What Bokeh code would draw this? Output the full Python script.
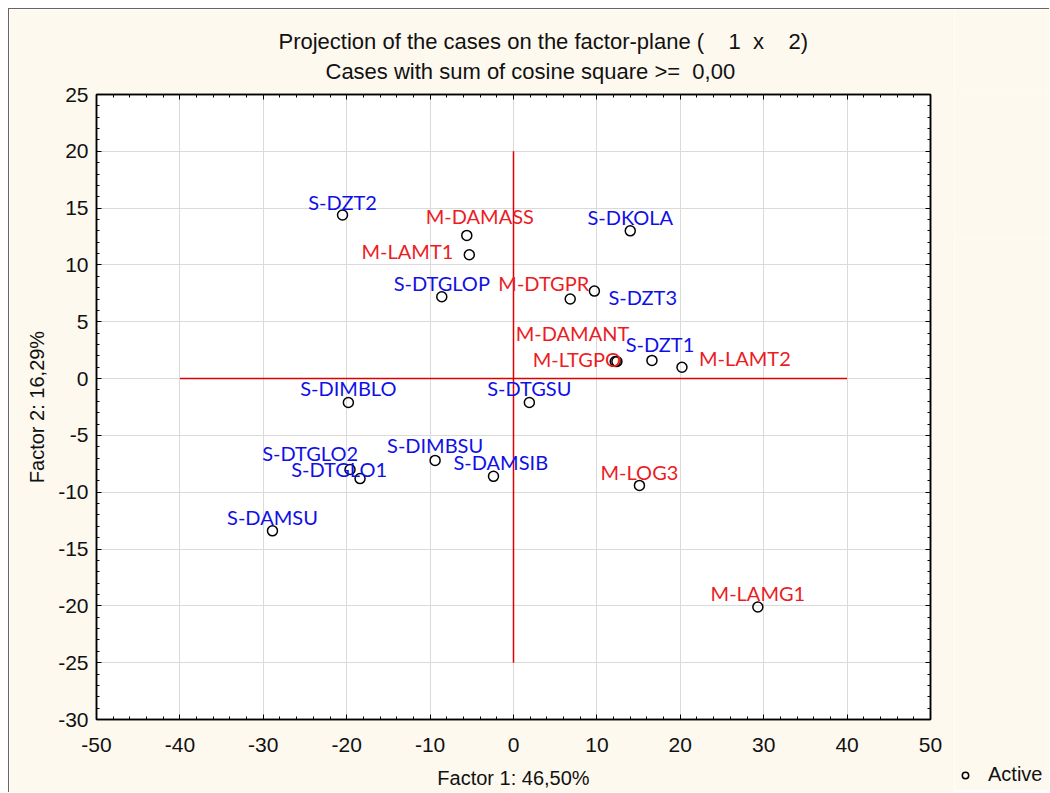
from bokeh.plotting import figure
from bokeh.models import (Range1d, LinearAxis, SingleIntervalTicker, Title, Legend,
                          LegendItem, ColumnDataSource, PrintfTickFormatter)
from bokeh.layouts import row
from bokeh.core.properties import value
from bokeh.embed import file_html
from bokeh.resources import INLINE

# ---- data ----
names = ["S-DZT2", "M-DAMASS", "M-LAMT1", "S-DKOLA", "S-DTGLOP", "M-DTGPR", "S-DZT3",
         "M-DAMANT", "M-LTGPO", "S-DZT1", "M-LAMT2", "S-DTGSU", "S-DIMBLO", "S-DTGLO2",
         "S-DTGLO1", "S-DIMBSU", "S-DAMSIB", "S-DAMSU", "M-LOG3", "M-LAMG1"]
factor1 = [-20.5, -5.6, -5.3, 14.0, -8.6, 6.8, 9.7,
           12.2, 12.4, 16.6, 20.2, 1.9, -19.8, -19.6,
           -18.4, -9.4, -2.4, -28.9, 15.1, 29.3]
factor2 = [14.4, 12.6, 10.9, 13.0, 7.2, 7.0, 7.7,
           1.5, 1.5, 1.6, 1.0, -2.1, -2.1, -8.0,
           -8.8, -7.2, -8.6, -13.4, -9.4, -20.1]
# reference axes drawn through the origin
hline_x = [-40, 40]
hline_y = [0, 0]
vline_x = [0, 0]
vline_y = [-25, 20]
legend_label = "Active"

NB = "\u00a0"
title1 = "Projection of the cases on the factor-plane (" + NB * 4 + "1" + NB * 2 + "x" + NB * 4 + "2)"
title2 = "Cases with sum of cosine square >=" + NB * 2 + "0,00"

# ---- label placement (styles) ----
lab_align = ["center", "center", "right", "center", "center", "right", "left",
             "right", "right", "center", "left", "center", "center", "right",
             "right", "center", "left", "center", "center", "center"]
lab_dx = [0, 13, -16, 0, 0, 19, 14,
          14, 4, 8, 17, 0, 0, 8,
          27, 0, -40, 0, 0, 0]
lab_dy = [-13, -19, -4, -14, -14, -16, 6,
          -29, -3, -16, -9, -14, -14, -17,
          -10, -15, -14, -14, -13, -14]
colors = ["#1010e6" if n.startswith("S-") else "#ec1c24" for n in names]

src = ColumnDataSource(dict(x=factor1, y=factor2, name=names, align=lab_align,
                            dx=lab_dx, dy=lab_dy, color=colors))

BG = "#fdf9ef"
TXT = "#111111"
p = figure(frame_width=833, frame_height=624,
           min_border_left=87, min_border_right=25, min_border_top=85, min_border_bottom=74,
           x_range=Range1d(-50, 50), y_range=Range1d(-30, 25),
           output_backend="svg", toolbar_location=None,
           background_fill_color="white", border_fill_color=BG,
           outline_line_color="black", outline_line_width=1.5,
           x_axis_label="Factor 1: 46,50%", y_axis_label="Factor 2: 16,29%")
p.title.text = ""
p.title.visible = False

xt = SingleIntervalTicker(interval=10, num_minor_ticks=5)
yt = SingleIntervalTicker(interval=5, num_minor_ticks=5)
bottom_axis = p.below[0]
left_axis = p.left[0]
bottom_axis.ticker = xt
left_axis.ticker = yt
bottom_axis.formatter = PrintfTickFormatter(format="%d")
left_axis.formatter = PrintfTickFormatter(format="%d")

top_axis = LinearAxis(ticker=xt)
right_axis = LinearAxis(ticker=yt)
p.add_layout(top_axis, "above")
p.add_layout(right_axis, "right")

t2 = Title(text=title2, align="left", offset=229, standoff=22,
           text_font="Liberation Sans", text_font_size="22px",
           text_font_style="normal", text_color=TXT)
t1 = Title(text=title1, align="left", offset=182, standoff=-16,
           text_font="Liberation Sans", text_font_size="22px",
           text_font_style="normal", text_color=TXT)
p.add_layout(t2, "above")
p.add_layout(t1, "above")

for ax in [bottom_axis, left_axis, top_axis, right_axis]:
    ax.axis_line_color = "black"
    ax.axis_line_width = 1.5
    ax.major_tick_in = 5
    ax.major_tick_out = 0
    ax.minor_tick_in = 3
    ax.minor_tick_out = 0
    ax.major_tick_line_color = "black"
    ax.minor_tick_line_color = "black"
    ax.major_label_text_font = "Liberation Sans"
    ax.major_label_text_font_size = "21px"
    ax.major_label_text_color = TXT
    ax.axis_label_text_font = "Liberation Sans"
    ax.axis_label_text_font_size = "20px"
    ax.axis_label_text_font_style = "normal"
    ax.axis_label_text_color = TXT

for ax in [top_axis, right_axis]:
    ax.major_label_text_font_size = "0px"
    ax.major_label_standoff = 0

bottom_axis.major_label_standoff = 18
left_axis.major_label_standoff = 8
bottom_axis.axis_label_standoff = 12
left_axis.axis_label_standoff = 7

p.xgrid.grid_line_color = "#dadada"
p.ygrid.grid_line_color = "#dadada"
p.xgrid.ticker = xt
p.ygrid.ticker = yt

p.line(hline_x, hline_y, line_color="#e00000", line_width=1.5)
p.line(vline_x, vline_y, line_color="#e00000", line_width=1.5)

pts = p.scatter("x", "y", source=src, marker="circle", size=10, fill_color=None,
                line_color="black", line_width=1.5)
p.text("x", "y", text="name", source=src, text_align="align", text_baseline="middle",
       x_offset="dx", y_offset="dy", text_color="color",
       text_font=value("Lato"), text_font_size="20px")

p.styles = {"border-left": "1px solid #666", "border-top": "1px solid #666"}

# ---- legend strip to the right of the plot (legend sits below its frame) ----
lf = figure(width=95, height=782, x_range=Range1d(100, 101), y_range=Range1d(100, 101),
            x_axis_type=None, y_axis_type=None, min_border=0,
            min_border_left=0, min_border_right=0, min_border_top=0, min_border_bottom=0,
            output_backend="svg", toolbar_location=None,
            background_fill_color=BG, border_fill_color=BG,
            outline_line_color=None)
lf.title.visible = False
lf.grid.visible = False
leg_r = lf.scatter("x", "y", source=src, marker="circle", size=8, fill_color=None,
                   line_color="black", line_width=1.5)
leg = Legend(items=[LegendItem(label=legend_label, renderers=[leg_r])],
             location=(3, 5), background_fill_alpha=0, border_line_alpha=0,
             padding=0, margin=26, label_standoff=15,
             label_text_font="Liberation Sans", label_text_font_size="20px",
             label_text_color=TXT, glyph_width=16, glyph_height=16)
lf.add_layout(leg, "below")
lf.styles = {"border-top": "1px solid #666"}

layout = row(p, lf, spacing=0)
layout.styles = {"margin-left": "8px", "margin-top": "8px"}

open("out.html", "w").write(file_html(layout, INLINE))
